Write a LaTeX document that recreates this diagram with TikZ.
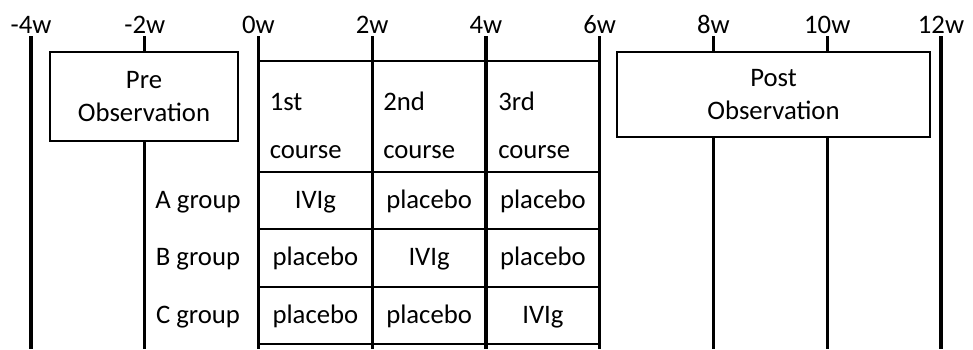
\documentclass[tikz,border=0pt]{standalone}
\usepackage{fontspec}
\setmainfont{Carlito}
\tikzset{
  linija/.style    = {line width=2.3pt, draw=black},
  mreza/.style     = {line width=1.2pt, draw=black},
  oznaka/.style    = {anchor=base, inner sep=0pt, font=\fontsize{19}{23}\selectfont},
  kutija/.style    = {rectangle, draw=black, line width=1.2pt, fill=white, align=center,
                      inner sep=0pt, font=\fontsize{19}{23.4}\selectfont},
  zaglavlje/.style = {anchor=base west, align=left, inner sep=0pt,
                      font=\fontsize{19}{34}\selectfont},
  celija/.style    = {anchor=base, inner sep=0pt, font=\fontsize{19}{23}\selectfont},
}

\begin{document}
\begin{tikzpicture}[x=0.025cm, y=-0.025cm]
  \useasboundingbox (0,0) rectangle (973,349);
  % --- vremenska osa ---
  \foreach \w in {-4,-2,...,12} {
    \pgfmathsetmacro\px{31+56.875*(\w+4)}
    \node[oznaka] (t\w) at (\px,33) {\w w};
    \coordinate (v\w) at (\px,36);
    \coordinate (d\w) at (\px,349);
    \draw[linija] (v\w) -- (d\w);
  }

  % --- posmatranje ---
  \node[kutija, minimum width=4.7cm, minimum height=2.225cm] at (144,96.2) (pre)
        {Pre\\Observation};
  \node[kutija, minimum width=7.825cm, minimum height=2.125cm] at (773.5,94.2) (post)
        {Post\\Observation};

  % --- tabela ---
  \foreach \y in {61,172,229,287,344}
    \draw[mreza] (v0 |- 0,\y) -- (v6 |- 0,\y);

  \node[zaglavlje] at (269.5,158) (k1) {1st\\course};
  \node[zaglavlje] at (383,158)   (k2) {2nd\\course};
  \node[zaglavlje] at (498,158)   (k3) {3rd\\course};

  \node[celija] at (198,208)   (ga) {A group};
  \node[celija] at (198,265.5) (gb) {B group};
  \node[celija] at (198,323)   (gc) {C group};

  \node[celija] at (315.4,208)   (a1) {IVIg};
  \node[celija] at (429.1,208)   (a2) {placebo};
  \node[celija] at (542.9,208)   (a3) {placebo};
  \node[celija] at (315.4,265.5) (b1) {placebo};
  \node[celija] at (429.1,265.5) (b2) {IVIg};
  \node[celija] at (542.9,265.5) (b3) {placebo};
  \node[celija] at (315.4,323)   (c1) {placebo};
  \node[celija] at (429.1,323)   (c2) {placebo};
  \node[celija] at (542.9,323)   (c3) {IVIg};
\end{tikzpicture}
\end{document}
